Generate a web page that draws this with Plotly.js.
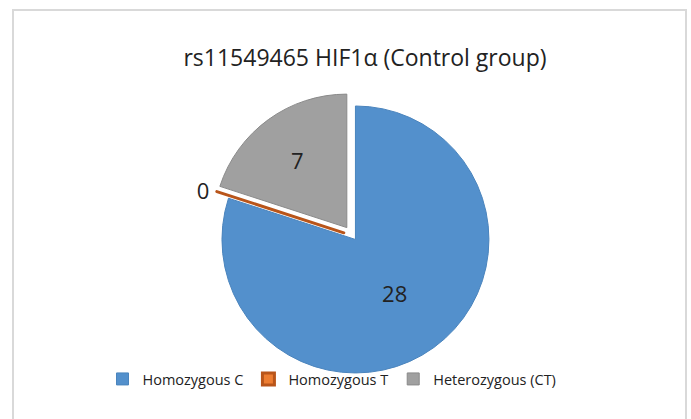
<!DOCTYPE html>
<html>
<head>
<meta charset="utf-8">
<script src="https://cdn.plot.ly/plotly-3.0.1.min.js"></script>
<style>html,body{margin:0;padding:0;background:#fff;}#chart{width:691px;height:419px;}</style>
</head>
<body>
<div id="chart"></div>
<script>
const categories = ["Homozygous C", "Homozygous T", "Heterozygous (CT)"];
const counts = [28, 0, 7];
const sliceColors = ["#5390cc", "#ed7d31", "#a0a0a0"];
const edgeColors = ["#4a84bd", "#b9551a", "#8a8a8a"];
const chartTitle = "rs11549465 HIF1α (Control group)";

const W = 691, H = 419;
const trace = {
  type: "pie",
  labels: categories,
  values: counts,
  sort: false,
  direction: "clockwise",
  rotation: 0,
  pull: [0.035, 0.07, 0.075],
  marker: { colors: sliceColors, line: { color: edgeColors, width: [1, 3, 1] } },
  textinfo: "value",
  textposition: ["inside", "outside", "inside"],
  insidetextorientation: "horizontal",
  textfont: { family: "Open Sans", size: 22, color: "#222222" },
  outsidetextfont: { family: "Open Sans", size: 22, color: "#222222" },
  hoverinfo: "label+value",
  domain: { x: [209.2 / W, 496.2 / W], y: [(H - 379.2) / H, (H - 92.2) / H] },
  automargin: false
};

const layout = {
  width: W, height: H,
  margin: { l: 0, r: 0, t: 0, b: 0 },
  paper_bgcolor: "#ffffff",
  font: { family: "Open Sans", color: "#222222" },
  title: {
    text: chartTitle,
    font: { family: "Open Sans", size: 23, color: "#222222" },
    x: 365 / W, xanchor: "center", xref: "paper",
    y: 1 - 58 / H, yanchor: "middle", yref: "paper"
  },
  showlegend: true,
  legend: {
    orientation: "h",
    x: 332 / W, xanchor: "center",
    y: 1 - 379 / H, yanchor: "middle",
    bgcolor: "rgba(0,0,0,0)",
    font: { family: "Open Sans", size: 14.5, color: "#222222" },
    itemwidth: 30,
    traceorder: "normal"
  },
  shapes: [{
    type: "rect", xref: "paper", yref: "paper",
    x0: 13 / W, x1: 686 / W, y0: -0.05, y1: 1 - 10 / H,
    line: { color: "#d9d9d9", width: 2 }, fillcolor: "rgba(0,0,0,0)", layer: "below"
  }]
};

Plotly.newPlot("chart", [trace], layout, { displayModeBar: false, staticPlot: true });
</script>
</body>
</html>
